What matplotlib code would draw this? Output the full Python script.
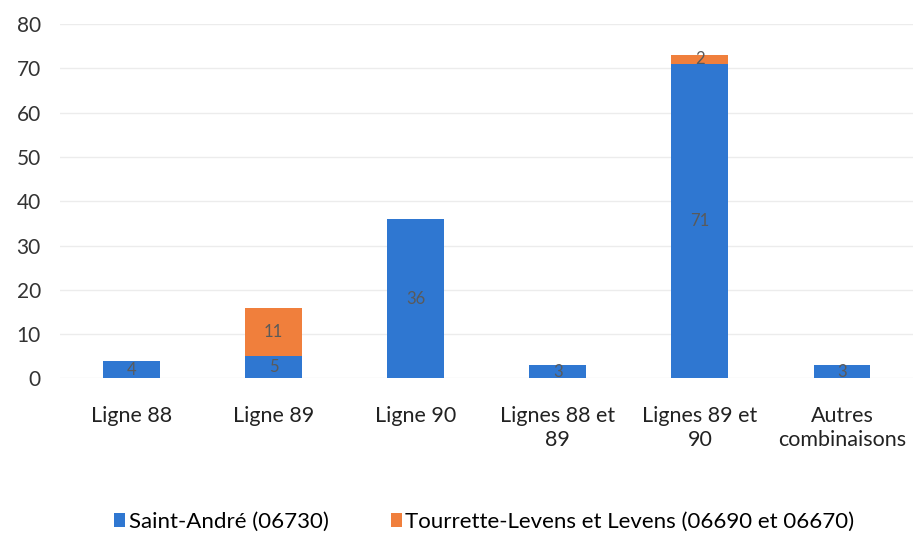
import matplotlib.pyplot as plt
import numpy as np

categories = ["Ligne 88", "Ligne 89", "Ligne 90", "Lignes 88 et\n89", "Lignes 89 et\n90", "Autres\ncombinaisons"]
saint_andre = [4, 5, 36, 3, 71, 3]
tourrette = [0, 11, 0, 0, 2, 0]
series_names = ["Saint-André (06730)", "Tourrette-Levens et Levens (06690 et 06670)"]

blue = "#2F77D1"
orange = "#F07F3C"

plt.rcParams['font.family'] = ['Lato', 'DejaVu Sans']

fig = plt.figure(figsize=(9.14, 5.33), dpi=100)
ax = fig.add_axes([0.066, 0.29, 0.933, 0.665])

x = np.arange(len(categories))
w = 0.4
b1 = ax.bar(x, saint_andre, w, color=blue, label=series_names[0], zorder=2)
b2 = ax.bar(x, tourrette, w, bottom=saint_andre, color=orange, label=series_names[1], zorder=2)

# data labels in the middle of each segment
for i in range(len(categories)):
    ax.text(x[i], saint_andre[i] / 2, str(saint_andre[i]), ha='center', va='center',
            fontsize=12, color='#5a5a5a', zorder=3)
    if tourrette[i] > 0:
        ax.text(x[i], saint_andre[i] + tourrette[i] / 2, str(tourrette[i]), ha='center', va='center',
                fontsize=12, color='#5a5a5a', zorder=3)

ax.set_ylim(0, 80)
ax.set_yticks(range(0, 81, 10))
ax.set_xlim(-0.5, len(categories) - 0.5)
ax.set_xticks(x)
ax.set_xticklabels(categories, fontsize=15.5, color='#222222', linespacing=1.25)
ax.tick_params(axis='y', labelsize=15, colors='#333333', length=0, pad=14)
ax.tick_params(axis='x', length=0, pad=20)
ax.grid(axis='y', color='#ececec', linewidth=1, zorder=0)
for s in ax.spines.values():
    s.set_visible(False)

fig.legend(handles=[b1, b2], labels=series_names, loc='lower center', bbox_to_anchor=(0.53, -0.035),
           ncol=2, frameon=False, fontsize=16, handlelength=0.5, handleheight=0.6,
           handletextpad=0.15, columnspacing=2.8)

fig.savefig("out.png", dpi=100)
